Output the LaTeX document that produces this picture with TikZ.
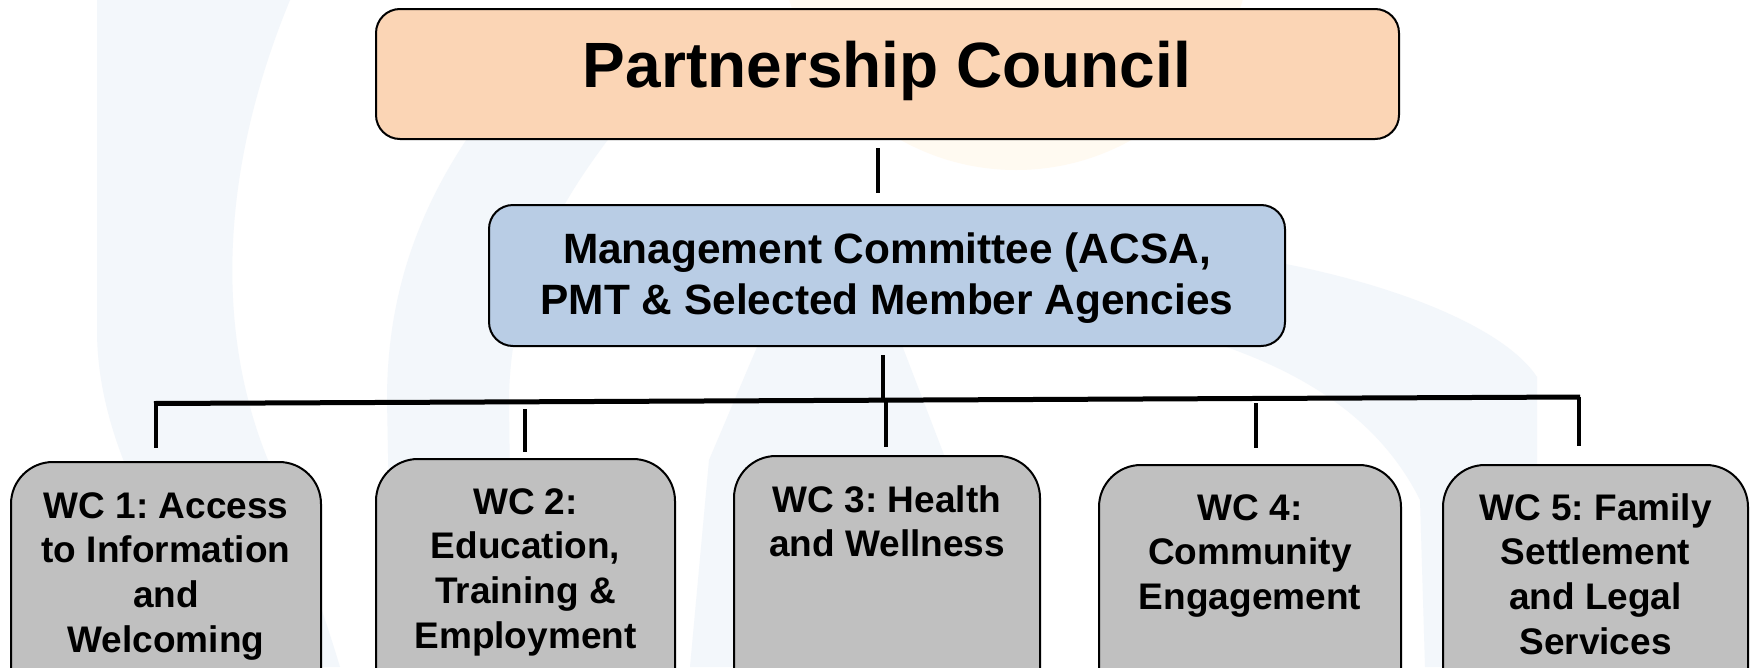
\documentclass[tikz,border=0pt]{standalone}
\usepackage{fontspec}
\setmainfont{Liberation Sans}
\frenchspacing
\definecolor{pcfill}{HTML}{FBD5B5}
\definecolor{mcfill}{HTML}{B9CDE5}
\definecolor{wcfill}{HTML}{C0C0C0}
\definecolor{wmblue}{HTML}{F3F7FB}
\definecolor{wmpeach}{HTML}{FFFAF1}
\begin{document}
\frenchspacing
\begin{tikzpicture}[x=1pt,y=-1pt,
  boxbase/.style={draw=black, line width=2pt, inner sep=0pt},
  pcbox/.style={boxbase, fill=pcfill, rounded corners=24pt, minimum width=1023pt, minimum height=130pt},
  mcbox/.style={boxbase, fill=mcfill, rounded corners=24pt, minimum width=796pt, minimum height=141pt},
  mctext/.style={inner sep=0pt, align=center, font=\bfseries\fontsize{42.4}{51}\selectfont},
  wcbox/.style={boxbase, fill=wcfill, rounded corners=42pt, minimum width=#1, minimum height=300pt, anchor=north},
  wctext/.style={anchor=north, inner sep=0pt, align=center, font=\bfseries\fontsize{37}{44.8}\selectfont},
  pctext/.style={anchor=base, inner sep=0pt, font=\bfseries\fontsize{64}{76}\selectfont},
  conn/.style={line width=4.5pt},
  barline/.style={line width=5pt}
]
\path[use as bounding box] (0,0) rectangle (1756,667);
\clip (0,0) rectangle (1756,667);
\fill[white] (0,0) rectangle (1756,667);
% faint watermark
\fill[wmblue] (97,0) -- (290,0) .. controls (220,170) and (215,330) .. (268,460)
  .. controls (290,520) and (320,600) .. (340,667) -- (240,667)
  .. controls (170,560) and (97,450) .. (97,330) -- cycle;
\fill[wmblue] (480,120) .. controls (415,210) and (387,300) .. (387,400)
  -- (392,667) -- (512,667) -- (509,400)
  .. controls (510,290) and (555,200) .. (640,100) -- cycle;
\fill[wmblue] (760,340) -- (900,340) -- (946,460) -- (990,667) -- (690,667) -- (709,460) -- cycle;
\fill[wmblue] (1150,245) .. controls (1350,262) and (1500,320) .. (1537,377) -- (1537,667)
  -- (1425,667) -- (1420,500) .. controls (1380,420) and (1300,360) .. (1150,325) -- cycle;
\fill[wmpeach] (1016,-66) circle (236);
% boxes
\node[pcbox] (pc) at (887.5,74) {};
\node[pctext] (pct) at (887,87) {Partnership Council};
\node[mcbox] (mc) at (887,275.5) {};
\node[mctext] (mct) at (887,278.5) {Management Committee (ACSA,\\PMT \& Selected Member Agencies};
\node[wcbox=310pt] (wc1) at (166,461) {};
\node[wcbox=299pt] (wc2) at (525.5,458) {};
\node[wcbox=306pt] (wc3) at (887,455) {};
\node[wcbox=302pt] (wc4) at (1250,464) {};
\node[wcbox=305pt] (wc5) at (1595.5,464) {};
\node[wctext] (wc1t) at ([yshift=-31pt]wc1.north) {WC 1: Access\\to Information\\and\\Welcoming};
\node[wctext] (wc2t) at ([yshift=-30pt]wc2.north) {WC 2:\\Education,\\Training \&\\Employment};
\node[wctext] (wc3t) at ([yshift=-30pt]wc3.north) {WC 3: Health\\and Wellness};
\node[wctext] (wc4t) at ([yshift=-30pt]wc4.north) {WC 4:\\Community\\Engagement};
\node[wctext] (wc5t) at ([yshift=-29pt]wc5.north) {WC 5: Family\\Settlement\\and Legal\\Services};
% connectors
\coordinate (barL) at (154,403.5);
\coordinate (barR) at (1580,397);
\coordinate (jmc) at (883,400.5);
\coordinate (j1) at (156,403.5);
\coordinate (j2) at (525,409);
\coordinate (j3) at (886,400);
\coordinate (j4) at (1256,403);
\coordinate (j5) at (1579,397);
\draw[conn] ([xshift=-9.5pt,yshift=-8pt]pc.south) -- ([xshift=-9pt,yshift=11pt]mc.north);
\draw[conn] ([xshift=-4pt,yshift=-8pt]mc.south) -- (jmc);
\draw[barline] (barL) -- (barR);
\draw[conn] (j1) -- ([xshift=-10pt,yshift=13pt]wc1.north);
\draw[conn] (j2) -- ([xshift=-0.5pt,yshift=6pt]wc2.north);
\draw[conn] (j3) -- ([xshift=-1pt,yshift=8pt]wc3.north);
\draw[conn] (j4) -- ([xshift=6pt,yshift=16pt]wc4.north);
\draw[conn] (j5) -- ([xshift=-16.5pt,yshift=18pt]wc5.north);
\end{tikzpicture}
\end{document}
